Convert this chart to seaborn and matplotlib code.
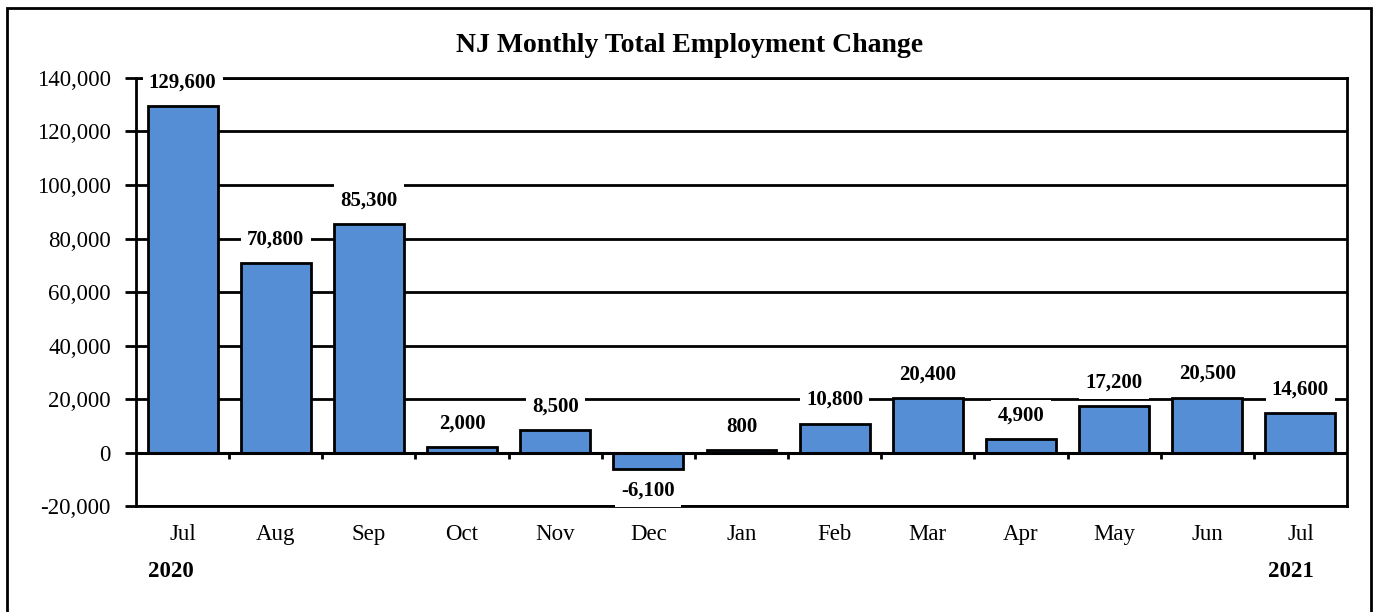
import numpy as np
import pandas as pd
import matplotlib
matplotlib.use("Agg")
import matplotlib.pyplot as plt
import matplotlib.transforms as mtransforms
from matplotlib.patches import Rectangle
import seaborn as sns

# --- Data ---
months = ["Jul", "Aug", "Sep", "Oct", "Nov", "Dec", "Jan",
          "Feb", "Mar", "Apr", "May", "Jun", "Jul "]
changes = [129600, 70800, 85300, 2000, 8500, -6100, 800,
           10800, 20400, 4900, 17200, 20500, 14600]
tick_labels = ["Jul", "Aug", "Sep", "Oct", "Nov", "Dec", "Jan",
               "Feb", "Mar", "Apr", "May", "Jun", "Jul"]
years = ["2020", "2021"]
title = "NJ Monthly Total Employment Change"

df = pd.DataFrame({"month": months, "change": changes})

sns.set_theme(style="white")
plt.rcParams["font.family"] = ["Liberation Serif", "DejaVu Serif"]

fig = plt.figure(figsize=(13.74, 6.12), dpi=100)
ax = fig.add_axes([0.09898, 0.17320, 0.88137, 0.69935])

sns.barplot(data=df, x="month", y="change", color="#558ED5",
            saturation=1, width=0.75, edgecolor="black", linewidth=2,
            ax=ax, zorder=3)

ax.set_ylim(-20000, 140000)
ax.set_xlim(-0.5, len(months) - 0.5)
ax.set_yticks(np.arange(-20000, 140001, 20000))
ax.yaxis.set_major_formatter(matplotlib.ticker.FuncFormatter(lambda v, p: f"{int(v):,}"))
ax.set_xticks(range(len(months)))
ax.set_xticklabels(tick_labels)
ax.set_xlabel("")
ax.set_ylabel("")

# gridlines
for v in np.arange(-20000, 140001, 20000):
    ax.axhline(v, color="black", lw=2, zorder=1)
ax.axhline(0, color="black", lw=2.2, zorder=4)
# category separator ticks on the zero line
ax.vlines(np.arange(0.5, len(months) - 0.5), -2600, 0, color="black", lw=2, zorder=4)

for s in ["left", "right", "bottom", "top"]:
    ax.spines[s].set_visible(True)
    ax.spines[s].set_color("black")
    ax.spines[s].set_linewidth(2)

ax.tick_params(axis="y", direction="out", length=8, width=2, color="black",
               pad=10, labelsize=16.5, left=True)
ax.tick_params(axis="x", length=0, pad=13, labelsize=16.5)
for lbl in ax.get_xticklabels() + ax.get_yticklabels():
    lbl.set_color("black")

# value labels
for i, v in enumerate(changes):
    off = 17 if v >= 0 else -16
    ax.annotate(f"{v:,}", xy=(i, v), xytext=(0, off), textcoords="offset points",
                ha="center", va="center", fontsize=15, fontweight="bold",
                color="black", zorder=6,
                bbox=dict(boxstyle="square,pad=0.3", fc="white", ec="none"))

# year labels
trans = mtransforms.blended_transform_factory(ax.transData, ax.transAxes)
ax.text(-0.13, -0.154, years[0], transform=trans, ha="center", va="center",
        fontsize=16.5, fontweight="bold", color="black")
ax.text(len(months) - 1.1, -0.154, years[1], transform=trans, ha="center", va="center",
        fontsize=16.5, fontweight="bold", color="black")

fig.text(690 / 1374, 1 - 46 / 612, title, ha="center", va="center",
         fontsize=20, fontweight="bold", color="black")

# outer chart border
fig.patches.append(Rectangle((7 / 1374, -0.1), (1371 - 7) / 1374, 1.1 - 8 / 612,
                             transform=fig.transFigure, fill=False,
                             ec="black", lw=2, zorder=0))

fig.savefig("out.png", dpi=100)
plt.close(fig)
